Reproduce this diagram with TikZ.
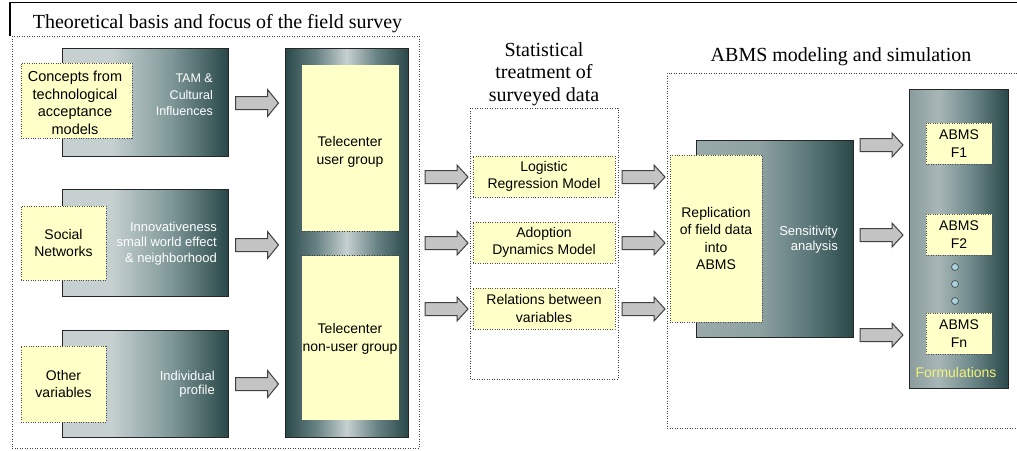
\documentclass[tikz,border=0pt]{standalone}
\usepackage{fontspec}
\setmainfont{Liberation Serif}
\setsansfont{Liberation Sans}
\newfontfamily\hdfont{Liberation Serif}
\definecolor{yel}{HTML}{FFFFC8}
\definecolor{gL}{HTML}{C6D0D0}
\definecolor{gM}{HTML}{7E9798}
\definecolor{gD}{HTML}{2A4849}
\definecolor{tM}{HTML}{6A8486}
\definecolor{sL}{HTML}{9AAAAA}
\definecolor{sL2}{HTML}{8EA2A2}
\definecolor{sM}{HTML}{5E7A7C}
\definecolor{fL}{HTML}{8A9C9C}
\definecolor{fL2}{HTML}{A8B6B6}
\definecolor{fM}{HTML}{6F8A8C}
\definecolor{arrg}{HTML}{C4C4C4}
\definecolor{dotc}{HTML}{A8D2DE}
\definecolor{formc}{HTML}{F2F27A}
\pgfdeclarehorizontalshading{gleft}{100bp}{color(0bp)=(gL); color(25bp)=(gL); color(40bp)=(gL); color(58bp)=(gM); color(75bp)=(gD); color(100bp)=(gD)}
\pgfdeclarehorizontalshading{gtele}{100bp}{color(0bp)=(gD); color(25bp)=(gD); color(38bp)=(tM); color(50bp)=(gL); color(62bp)=(tM); color(75bp)=(gD); color(100bp)=(gD)}
\pgfdeclarehorizontalshading{gsens}{100bp}{color(0bp)=(sL); color(25bp)=(sL); color(45bp)=(sL2); color(60bp)=(sM); color(75bp)=(gD); color(100bp)=(gD)}
\pgfdeclarehorizontalshading{gform}{100bp}{color(0bp)=(fL); color(25bp)=(fL); color(40bp)=(fL2); color(56bp)=(fM); color(75bp)=(gD); color(100bp)=(gD)}
\begin{document}
\begin{tikzpicture}[x=1pt,y=-1pt,
  dotline/.style={draw=black!75, line width=0.9pt, dash pattern=on 0.9pt off 1.6pt},
  gbox/.style={draw=black!85, line width=1pt, inner sep=0},
  ybox/.style={fill=yel, draw=black!70, line width=0.8pt, dash pattern=on 0.8pt off 1.6pt, inner sep=0,
    font=\sffamily\fontsize{14}{17.5}\selectfont, align=center},
  ynob/.style={fill=yel, inner sep=0},
  wtxt/.style={text=white, font=\sffamily\fontsize{13}{15.5}\selectfont, align=right, anchor=east, inner sep=0},
  btxt/.style={font=\sffamily\fontsize{14}{17.5}\selectfont, align=center, inner sep=0},
  head/.style={font=\hdfont\fontsize{20}{22.5}\selectfont, align=center, inner sep=0},
  arrsty/.style={fill=arrg, draw=black!75, line width=1pt, line join=miter},
  barrow/.pic={\draw[arrsty] (-21.5,-6.5) -- (10.5,-6.5) -- (10.5,-#1) -- (21.5,0) -- (10.5,#1) -- (10.5,6.5) -- (-21.5,6.5) -- cycle;},
  dotn/.style={circle, draw=black!70, fill=dotc, minimum size=7, inner sep=0, line width=0.7pt}
]
\useasboundingbox (0,0) rectangle (1017,450);
\fill[white] (0,0) rectangle (1017,450);

% frame and titles
\draw[line width=1.2pt] (10,36) -- (10,2.5) -- (1017,2.5);
\node[head, anchor=base] (title1) at (217.5,28) {Theoretical basis and focus of the field survey};
\draw[dotline] (12,36) rectangle (419,448);

% left column
\node[gbox, shading=gleft, minimum width=166, minimum height=108] (g1) at (145,102) {};
\node[gbox, shading=gleft, minimum width=166, minimum height=107] (g2) at (145,242.5) {};
\node[gbox, shading=gleft, minimum width=166, minimum height=107] (g3) at (145,383.5) {};
\node[ybox, minimum width=111, minimum height=75] (c1) at (76.5,100.5) {};
\node[btxt, font=\sffamily\fontsize{14.5}{17.5}\selectfont] (c1t) at (75,103) {Concepts from\\technological\\acceptance\\models};
\node[ybox, minimum width=85, minimum height=74] (c2) at (63.5,243) {Social\\Networks};
\node[ybox, minimum width=85, minimum height=76] (c3) at (63.5,384) {Other\\variables};
\node[wtxt, font=\sffamily\fontsize{12.5}{16.5}\selectfont] (t1) at (213,95) {TAM \&\\Cultural\\Influences};
\node[wtxt] (t2) at (217,243.5) {Innovativeness\\small world effect\\\& neighborhood};
\node[wtxt, font=\sffamily\fontsize{13}{14.5}\selectfont] (t3) at (215,384) {Individual\\profile};

\pic (a1) at (257,103) {barrow=13.5};
\pic (a2) at (257,245) {barrow=13.5};
\pic (a3) at (257,384) {barrow=13.5};

% telecenter
\node[gbox, shading=gtele, minimum width=123, minimum height=389] (T) at (346.5,242.5) {};
\node[ynob, minimum width=97, minimum height=166] (u1) at (350.5,148) {};
\node[ynob, minimum width=97, minimum height=164] (u2) at (350.5,338) {};
\draw[dotline, line width=0.8pt] (u1.south west) -- (u1.south east);
\draw[dotline, line width=0.8pt] (u2.north west) -- (u2.north east);
\node[btxt] (u1t) at (350,152) {Telecenter\\user group};
\node[btxt] (u2t) at (350,339) {Telecenter\\non-user group};

% middle
\node[head] (title2) at (544,74) {Statistical\\treatment of\\surveyed data};
\draw[dotline] (470,108) rectangle (618,379);
\node[ybox, minimum width=142, minimum height=41] (l1) at (544,176.5) {Logistic\\Regression Model};
\node[ybox, minimum width=142, minimum height=41] (l2) at (544,242.5) {Adoption\\Dynamics Model};
\node[ybox, minimum width=142, minimum height=41] (l3) at (544,308.5) {Relations between\\variables};
\pic (b1) at (446.5,177) {barrow=12};
\pic (b2) at (446.5,243) {barrow=12};
\pic (b3) at (446.5,309) {barrow=12};
\pic (b4) at (643.5,177) {barrow=12};
\pic (b5) at (643.5,243) {barrow=12};
\pic (b6) at (643.5,309) {barrow=12};

% right
\node[head, anchor=base] (title3) at (841,61) {ABMS modeling and simulation};
\draw[dotline] (1017,73) -- (667,73) -- (667,428) -- (1017,428);
\node[gbox, shading=gsens, minimum width=157, minimum height=197] (S) at (774.5,238.5) {};
\node[ybox, minimum width=92, minimum height=167] (R) at (716,238.5) {Replication\\of field data\\into\\ABMS};
\node[wtxt, font=\sffamily\fontsize{13}{15}\selectfont] (st) at (838,240) {Sensitivity\\analysis};
\pic (c1a) at (881.5,145) {barrow=12};
\pic (c2a) at (881.5,235) {barrow=12};
\pic (c3a) at (881.5,335) {barrow=12};
\node[gbox, shading=gform, minimum width=99, minimum height=299] (F) at (958.5,238.5) {};
\node[ybox, minimum width=66, minimum height=41] (f1) at (959,143.5) {ABMS\\F1};
\node[ybox, minimum width=66, minimum height=41] (f2) at (959,234.5) {ABMS\\F2};
\node[ybox, minimum width=66, minimum height=41] (fn) at (959,333.5) {ABMS\\Fn};
\node[dotn] (d1) at (955,267) {};
\node[dotn] (d2) at (955,284) {};
\node[dotn] (d3) at (955,301) {};
\node[text=formc, font=\sffamily\fontsize{14}{15}\selectfont, inner sep=0] (ft) at (956,372) {Formulations};
\end{tikzpicture}
\end{document}
